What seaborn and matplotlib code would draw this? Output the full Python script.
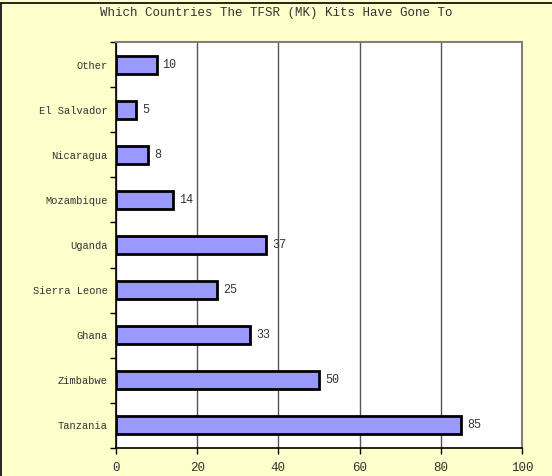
import seaborn as sns
import pandas as pd
import matplotlib.pyplot as plt
from matplotlib.lines import Line2D

countries = ['Other', 'El Salvador', 'Nicaragua', 'Mozambique', 'Uganda',
             'Sierra Leone', 'Ghana', 'Zimbabwe', 'Tanzania']
kits = [10, 5, 8, 14, 37, 25, 33, 50, 85]
xticks = [0, 20, 40, 60, 80, 100]

df = pd.DataFrame({'country': countries, 'kits': kits})

sns.set_style('white')
plt.rcParams['font.family'] = ['Liberation Mono', 'DejaVu Sans Mono']

fig = plt.figure(figsize=(5.52, 4.76), dpi=100, facecolor='#FFFFCC')
ax = fig.add_axes([0.210, 0.0588, 0.7357, 0.853])
ax.set_facecolor('white')

sns.barplot(data=df, x='kits', y='country', order=countries, orient='h',
            color='#9999FF', saturation=1, width=0.4,
            edgecolor='black', linewidth=2, ax=ax, zorder=3)

for i, v in enumerate(kits):
    ax.text(v + 1.5, i, str(v), va='center', ha='left', fontsize=8.5, color='#333333')

ax.set_xlim(0, 100)
ax.set_ylim(len(countries) - 0.5, -0.5)
ax.set_xticks(xticks)
ax.set_xticklabels([str(t) for t in xticks], fontsize=9)
ax.set_yticks(range(len(countries)))
ax.set_yticklabels(countries, fontsize=7.5)
ax.tick_params(axis='y', which='major', left=True, length=0, pad=6, labelcolor='#333333')
ax.set_yticks([i + 0.5 for i in range(-1, len(countries))], minor=True)
ax.tick_params(axis='y', which='minor', left=True, length=4, width=1, direction='out', color='black')
ax.tick_params(axis='x', bottom=True, length=4, width=1, direction='out', color='black', pad=6,
               labelcolor='#333333')
ax.xaxis.grid(True, color='#555555', linewidth=1, zorder=0)
ax.set_axisbelow(True)
ax.set_xlabel('')
ax.set_ylabel('')

for side in ['top', 'right']:
    ax.spines[side].set_color('#808080')
    ax.spines[side].set_linewidth(1.5)
for side in ['left', 'bottom']:
    ax.spines[side].set_color('black')
    ax.spines[side].set_linewidth(1.2)

fig.text(0.5, 0.972, 'Which Countries The TFSR (MK) Kits Have Gone To',
         ha='center', va='center', fontsize=9, color='#333333')

fig.add_artist(Line2D([0.002, 0.002], [0, 0.994], transform=fig.transFigure, color='black', linewidth=1.2))
fig.add_artist(Line2D([0.002, 1], [0.994, 0.994], transform=fig.transFigure, color='black', linewidth=1.2))

fig.savefig('out.png', dpi=100, facecolor=fig.get_facecolor())
